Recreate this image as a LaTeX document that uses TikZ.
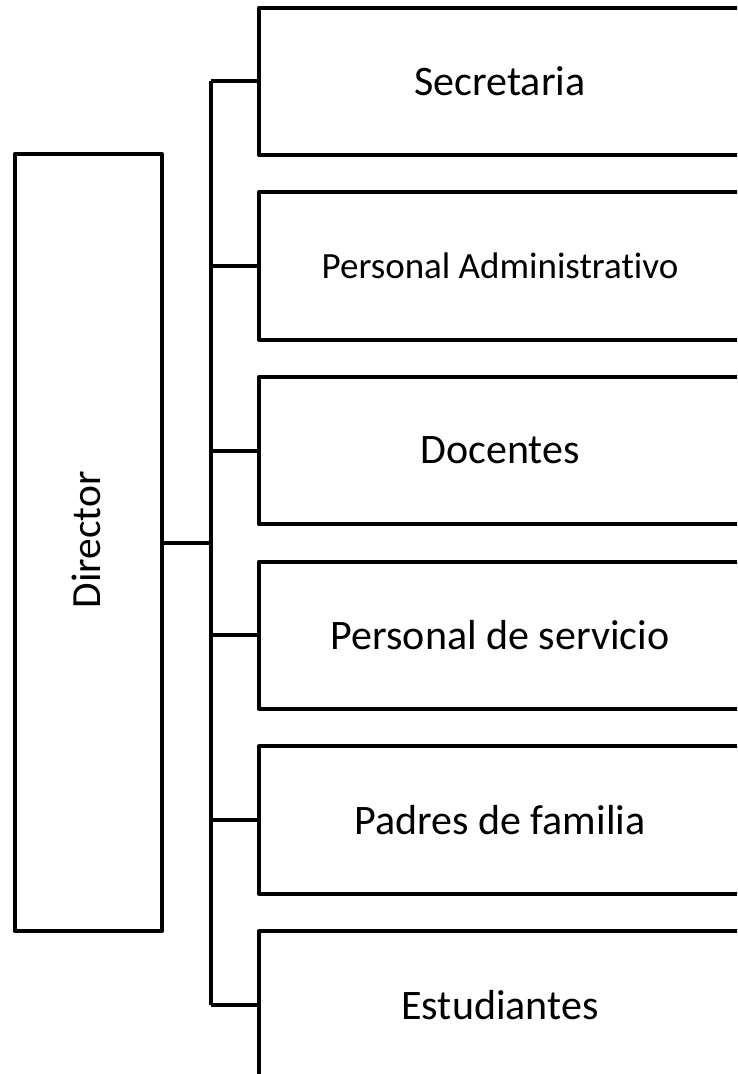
\documentclass[tikz,border=0pt]{standalone}
\usepackage{fontspec}
\setmainfont[RawFeature=-liga]{Carlito}
\begin{document}
\begin{tikzpicture}[x=1pt,y=-1pt,
  line width=4pt, line join=round,
  box/.style={draw, line width=4pt, minimum width=482pt, minimum height=147.5pt, inner sep=0pt, font=\fontsize{42}{50}\selectfont},
  dirbox/.style={draw, line width=4pt, minimum width=147.5pt, minimum height=777pt, inner sep=0pt},
  link/.style={draw, line width=4pt}]
\useasboundingbox (0,0) rectangle (737,1074);
\clip (0,0) rectangle (737,1074);
\node[dirbox] (dir) at (88.25,542.5) {};
\node[rotate=90, font=\fontsize{41.5}{49}\selectfont] (dirt) at (86,540) {Director};
\node[box] (s1) at (500,81.25) {Secretaria};
\node[box, font=\fontsize{37}{44}\selectfont] (s2) at (500,265.9) {Personal Administrativo};
\node[box] (s3) at (500,450.6) {Docentes};
\node[box] (s4) at (500,635.3) {Personal de servicio};
\node[box] (s5) at (500,820) {Padres de familia};
\node[box] (s6) at (500,1004.7) {Estudiantes};
\coordinate (j1) at (211,81.25);
\coordinate (j6) at (211,1004.7);
\path[link] (j1) -- (j6);
\path[link] (dir.east) -- (dir.east -| j1);
\foreach \i in {1,...,6} {
  \path[link] (s\i.west -| j1) -- (s\i.west);
}
\end{tikzpicture}
\end{document}
